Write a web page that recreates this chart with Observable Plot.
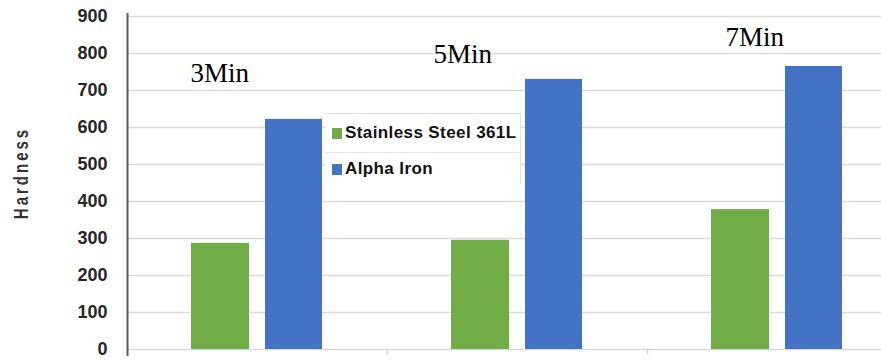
<!DOCTYPE html>
<html>
<head>
<meta charset="utf-8">
<script src="https://cdn.jsdelivr.net/npm/d3@7"></script>
<script src="https://cdn.jsdelivr.net/npm/@observablehq/plot@0.6"></script>
<style>
  html, body { margin: 0; padding: 0; background: #fff; overflow: hidden; }
  #wrap { position: relative; width: 881px; height: 360px; overflow: hidden; }
  #wrap svg { overflow: hidden; display: block; }
  #ylabel {
    position: absolute; left: 21px; top: 173px;
    transform: translate(-50%, -50%) rotate(-90deg) scale(1, 1.35);
    font: bold 15px "Liberation Sans", Arial, sans-serif;
    letter-spacing: 3px; color: #333; white-space: nowrap;
  }
  #legend {
    position: absolute; left: 325px; top: 113px; width: 195px; height: 70px;
    background: #fff; border-top: 1.5px solid #e2e2e2; border-right: 1.5px solid #e2e2e2;
    font: bold 17px "Liberation Sans", Arial, sans-serif; color: #111;
  }
  #legend .row { position: absolute; left: 0; width: 195px; height: 38px; }
  #legend .row.r1 { top: 0; border-bottom: 1.5px solid #e2e2e2; }
  #legend .row.r2 { top: 39px; }
  #legend .sw { position: absolute; left: 7px; width: 10px; height: 11px; }
  #legend .r1 .sw { top: 14px; }
  #legend .r2 .sw { top: 11px; }
  #legend .tx { position: absolute; left: 20px; white-space: nowrap; letter-spacing: 0.4px; }
  #legend .r1 .tx { top: 9px; }
  #legend .r2 .tx { top: 6px; }
</style>
</head>
<body>
<div id="wrap">
  <div id="chart"></div>
  <div id="ylabel"></div>
  <div id="legend"></div>
</div>
<script>
// ---- data ----
const groups = ["3Min", "5Min", "7Min"];
const series = ["Stainless Steel 361L", "Alpha Iron"];
const steelValues = [287, 295, 378];
const ironValues = [622, 730, 765];
const yTicks = [0, 100, 200, 300, 400, 500, 600, 700, 800, 900];
const yLabel = "Hardness";
const labelValues = [722, 773, 819];   // heights (in hardness units) of the group annotations

// ---- styling ----
const colors = ["#70AD47", "#4472C4"];
const labelShift = [-67, -84, -52];
const halfBand = 130;

const data = groups.flatMap((g, i) => [
  {group: g, series: series[0], value: steelValues[i]},
  {group: g, series: series[1], value: ironValues[i]}
]);
const labelData = groups.map((g, i) => ({group: g, text: g, v: labelValues[i]}));

const chart = Plot.plot({
  width: 881,
  height: 360,
  marginTop: 16,
  marginBottom: 11,
  marginLeft: 127,
  marginRight: 0,
  x: {domain: groups, range: [127, 907], padding: 0, axis: null},
  y: {domain: [0, 900], ticks: yTicks, tickSize: 0, tickPadding: 20, label: null, tickFormat: d => String(d)},
  color: {domain: series, range: colors},
  style: {fontFamily: "'Liberation Sans', Arial, sans-serif", fontSize: "18px", fontWeight: "bold", color: "#262626", background: "#fff"},
  marks: [
    Plot.ruleY(yTicks, {stroke: "#dadada", strokeWidth: 1.6}),
    Plot.ruleX(groups.slice(1), {x: d => d, dx: -halfBand, y1: 0, y2: 0, insetBottom: -5, stroke: "#d0d0d0", strokeWidth: 1.5}),
    Plot.barY(data.filter(d => d.series === series[0]), {x: "group", y: "value", fill: "series", insetLeft: 64, insetRight: 138}),
    Plot.barY(data.filter(d => d.series === series[1]), {x: "group", y: "value", fill: "series", insetLeft: 138, insetRight: 65}),
    Plot.ruleX([groups[0]], {x: d => d, dx: -halfBand, y1: 900, y2: 0, insetTop: -3, insetBottom: -7, stroke: "#5a5a5a", strokeWidth: 2}),
    ...labelData.map((d, i) => Plot.text([d], {
      x: "group", y: "v", text: "text", dx: labelShift[i],
      textAnchor: "start", lineAnchor: "bottom",
      fontFamily: "'Liberation Serif', 'Times New Roman', serif", fontSize: 27, fontWeight: "normal", fill: "#000"
    }))
  ]
});
document.getElementById("chart").appendChild(chart);

document.getElementById("ylabel").textContent = yLabel;
const legend = document.getElementById("legend");
series.forEach((s, i) => {
  const row = document.createElement("div");
  row.className = "row r" + (i + 1);
  const sw = document.createElement("div");
  sw.className = "sw";
  sw.style.background = colors[i];
  const tx = document.createElement("div");
  tx.className = "tx";
  tx.textContent = s;
  row.appendChild(sw);
  row.appendChild(tx);
  legend.appendChild(row);
});
</script>
</body>
</html>
